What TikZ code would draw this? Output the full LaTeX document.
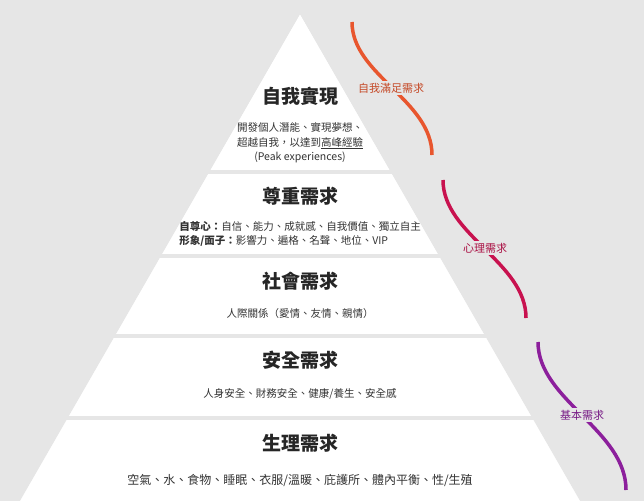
\documentclass[tikz,border=0pt]{standalone}
\usepackage{fontspec}
\setmainfont{Noto Sans CJK TC}
\begin{document}
\begin{tikzpicture}[x=1pt,y=-1pt,
  ttl/.style={font=\fontsize{19}{22}\selectfont\bfseries,text=black!85},
  dsc/.style={font=\fontsize{10.5}{14.5}\selectfont,text=black!80,align=center},
  lbl/.style={font=\fontsize{11}{13}\selectfont,fill=bg,inner sep=1.5pt},
  crv/.style={line width=3.5pt}]
\definecolor{bg}{HTML}{E6E6E6}
\definecolor{co}{HTML}{E8562E}
\definecolor{cr}{HTML}{C8124F}
\definecolor{pu}{HTML}{8C1F9C}
\fill[bg] (0,0) rectangle (644,500);
\useasboundingbox (0,0) rectangle (644,500);
\fill[white] (300,14) -- (580,500) -- (20,500) -- cycle;
\foreach \y in {172,256,336,418}{
  \fill[bg] (0,\y-1.6) rectangle (644,\y+1.6);
}
\fill[bg] (300,14) -- (644,612) -- (644,0) -- cycle;
\fill[bg] (300,14) -- (-44,612) -- (0,0) -- cycle;
% titles
\node[ttl] (t1) at (300,96) {自我實現};
\node[dsc] (d1) at (300,143) {開發個人潛能、實現夢想、\\超越自我，以達到\underline{高峰經驗}\\(Peak experiences)};
\node[ttl] (t2) at (300,196) {尊重需求};
\node[dsc,align=left] (d2) at (300,234) {\textbf{自尊心：}自信、能力、成就感、自我價值、獨立自主\\\textbf{形象/面子：}影響力、遍格、名聲、地位、VIP};
\node[ttl] (t3) at (300,281) {社會需求};
\node[dsc] (d3) at (300,314) {人際關係（愛情、友情、親情）};
\node[ttl] (t4) at (300,360) {安全需求};
\node[dsc] (d4) at (300,394) {人身安全、財務安全、健康/養生、安全感};
\node[ttl] (t5) at (300,443) {生理需求};
\node[dsc,font=\fontsize{12}{14}\selectfont] (d5) at (300,480) {空氣、水、食物、睡眠、衣服/溫暖、庇護所、體內平衡、性/生殖};
% curves
\coordinate (a1) at (352,22); \coordinate (a2) at (432,155);
\coordinate (b1) at (443,180); \coordinate (b2) at (526,318);
\coordinate (c1) at (538,342); \coordinate (c2) at (626,490);
\draw[crv,co] (a1) .. controls (352,75) and (432,100) .. (a2);
\draw[crv,cr] (b1) .. controls (443,235) and (526,262) .. (b2);
\draw[crv,pu] (c1) .. controls (538,400) and (626,430) .. (c2);
\node[lbl,text=co!85!black] (l1) at (391,88) {自我滿足需求};
\node[lbl,text=cr!85!black] (l2) at (485,248) {心理需求};
\node[lbl,text=pu!85!black] (l3) at (582,415) {基本需求};
\end{tikzpicture}
\end{document}
